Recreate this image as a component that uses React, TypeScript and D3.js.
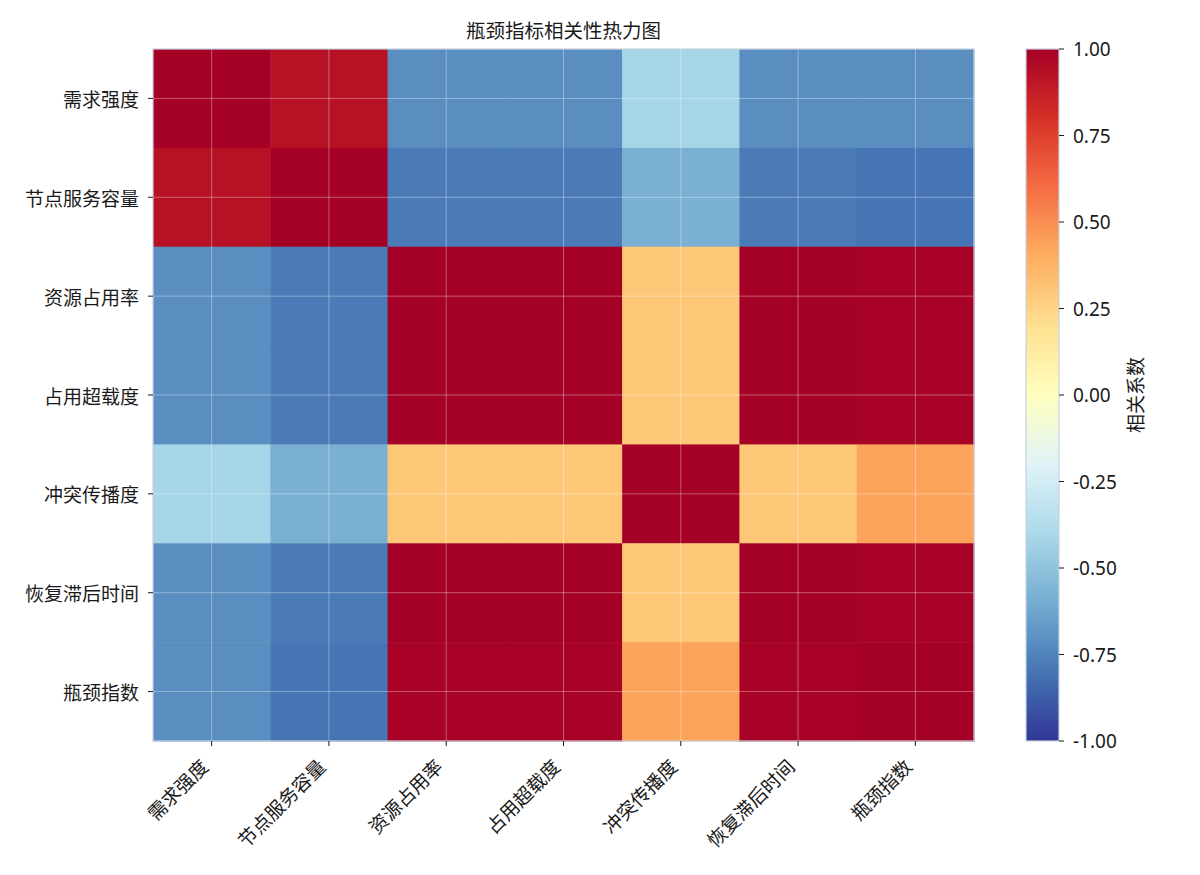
import React from "react";
import * as d3 from "d3";

// Indicator names (rows and columns share the same order)
const indicators = ["需求强度", "节点服务容量", "资源占用率", "占用超载度", "冲突传播度", "恢复滞后时间", "瓶颈指数"];

// Correlation matrix, one row per indicator
const rowDemand = [1.0, 0.93, -0.71, -0.71, -0.42, -0.71, -0.71];
const rowCapacity = [0.93, 1.0, -0.78, -0.78, -0.58, -0.78, -0.8];
const rowOccupancy = [-0.71, -0.78, 1.0, 1.0, 0.3, 1.0, 0.99];
const rowOverload = [-0.71, -0.78, 1.0, 1.0, 0.3, 1.0, 0.99];
const rowConflict = [-0.42, -0.58, 0.3, 0.3, 1.0, 0.3, 0.43];
const rowRecovery = [-0.71, -0.78, 1.0, 1.0, 0.3, 1.0, 0.99];
const rowBottleneck = [-0.71, -0.8, 0.99, 0.99, 0.43, 0.99, 1.0];
const matrix = [rowDemand, rowCapacity, rowOccupancy, rowOverload, rowConflict, rowRecovery, rowBottleneck];

// Colour bar ticks
const cbarTicks = [1.0, 0.75, 0.5, 0.25, 0.0, -0.25, -0.5, -0.75, -1.0];

// RdYlBu anchor colours, reversed so that +1 is dark red
const rdYlBu = ["#a50026", "#d73027", "#f46d43", "#fdae61", "#fee090", "#ffffbf", "#e0f3f8", "#abd9e9", "#74add1", "#4575b4", "#313695"];
const paletteReversed = [...rdYlBu].reverse();

const title = "瓶颈指标相关性热力图";
const cbarLabel = "相关系数";

const W = 1200;
const H = 875;
const plot = { left: 153, right: 974, top: 49, bottom: 741 };
const cbar = { left: 1026, right: 1059 };
const FONT = "'Noto Sans CJK SC', 'Noto Sans', sans-serif";
const NUM_FONT = "'Noto Sans', 'Noto Sans CJK SC', sans-serif";
const FS = 19;
const TEXT = "#1a1a1a";

export default function App() {
  const x = d3.scaleBand<string>().domain(indicators).range([plot.left, plot.right]).padding(0);
  const y = d3.scaleBand<string>().domain(indicators).range([plot.top, plot.bottom]).padding(0);
  const color = d3
    .scaleLinear<string>()
    .domain(d3.range(11).map((i) => -1 + (2 * i) / 10))
    .range(paletteReversed)
    .interpolate(d3.interpolateRgb)
    .clamp(true);
  const cy = d3.scaleLinear().domain([-1, 1]).range([plot.bottom, plot.top]);

  const bw = x.bandwidth();
  const bh = y.bandwidth();
  const cells: React.ReactElement[] = [];
  matrix.forEach((row, i) => {
    row.forEach((v, j) => {
      cells.push(
        <rect
          key={`c-${i}-${j}`}
          x={x(indicators[j])!}
          y={y(indicators[i])!}
          width={bw + 0.5}
          height={bh + 0.5}
          fill={color(v)}
        />
      );
    });
  });

  const gradStops = d3.range(0, 11).map((i) => (
    <stop key={i} offset={`${i * 10}%`} stopColor={paletteReversed[10 - i]} />
  ));

  return (
    <svg width={W} height={H} viewBox={`0 0 ${W} ${H}`} style={{ display: "block", position: "absolute", left: 0, top: 0, background: "#fff" }}>
      <defs>
        <linearGradient id="cbarGrad" x1="0" y1="0" x2="0" y2="1">
          {gradStops}
        </linearGradient>
      </defs>
      <rect x={0} y={0} width={W} height={H} fill="#fff" />
      <text x={(plot.left + plot.right) / 2} y={38} textAnchor="middle" fontFamily={FONT} fontSize={19.5} fill={TEXT}>
        {title}
      </text>

      {/* heatmap cells */}
      <g>{cells}</g>

      {/* grid at tick centres */}
      <g stroke="#ffffff" strokeOpacity={0.35} strokeWidth={1}>
        {indicators.map((d) => (
          <line key={`gx-${d}`} x1={x(d)! + bw / 2} x2={x(d)! + bw / 2} y1={plot.top} y2={plot.bottom} />
        ))}
        {indicators.map((d) => (
          <line key={`gy-${d}`} x1={plot.left} x2={plot.right} y1={y(d)! + bh / 2} y2={y(d)! + bh / 2} />
        ))}
      </g>

      <rect
        x={plot.left}
        y={plot.top}
        width={plot.right - plot.left}
        height={plot.bottom - plot.top}
        fill="none"
        stroke="#c8d2e0"
        strokeWidth={1.2}
      />

      {/* y axis */}
      <g fontFamily={FONT} fontSize={FS} fill={TEXT}>
        {indicators.map((d) => {
          const cyy = y(d)! + bh / 2;
          return (
            <g key={`yt-${d}`}>
              <line x1={plot.left - 5} x2={plot.left} y1={cyy} y2={cyy} stroke={TEXT} strokeWidth={1} />
              <text x={plot.left - 14} y={cyy} textAnchor="end" dominantBaseline="central">
                {d}
              </text>
            </g>
          );
        })}
      </g>

      {/* x axis */}
      <g fontFamily={FONT} fontSize={FS} fill={TEXT}>
        {indicators.map((d) => {
          const cx = x(d)! + bw / 2;
          return (
            <g key={`xt-${d}`}>
              <line x1={cx} x2={cx} y1={plot.bottom} y2={plot.bottom + 5} stroke={TEXT} strokeWidth={1} />
              <text
                transform={`translate(${cx - 8},${plot.bottom + 21}) rotate(-45)`}
                textAnchor="end"
                dominantBaseline="central"
              >
                {d}
              </text>
            </g>
          );
        })}
      </g>

      {/* colour bar */}
      <rect
        x={cbar.left}
        y={plot.top}
        width={cbar.right - cbar.left}
        height={plot.bottom - plot.top}
        fill="url(#cbarGrad)"
        stroke="#c8d2e0"
        strokeWidth={1.2}
      />
      <g fontFamily={NUM_FONT} fontSize={FS} fill={TEXT}>
        {cbarTicks.map((t) => (
          <g key={`cb-${t}`}>
            <line x1={cbar.right} x2={cbar.right + 5} y1={cy(t)} y2={cy(t)} stroke={TEXT} strokeWidth={1} />
            <text x={cbar.right + 14} y={cy(t)} dominantBaseline="central">
              {d3.format(".2f")(t).replace("−", "-")}
            </text>
          </g>
        ))}
      </g>
      <text
        transform={`translate(1134,${(plot.top + plot.bottom) / 2}) rotate(-90)`}
        textAnchor="middle"
        dominantBaseline="central"
        fontFamily={FONT}
        fontSize={FS}
        fill={TEXT}
      >
        {cbarLabel}
      </text>
    </svg>
  );
}
